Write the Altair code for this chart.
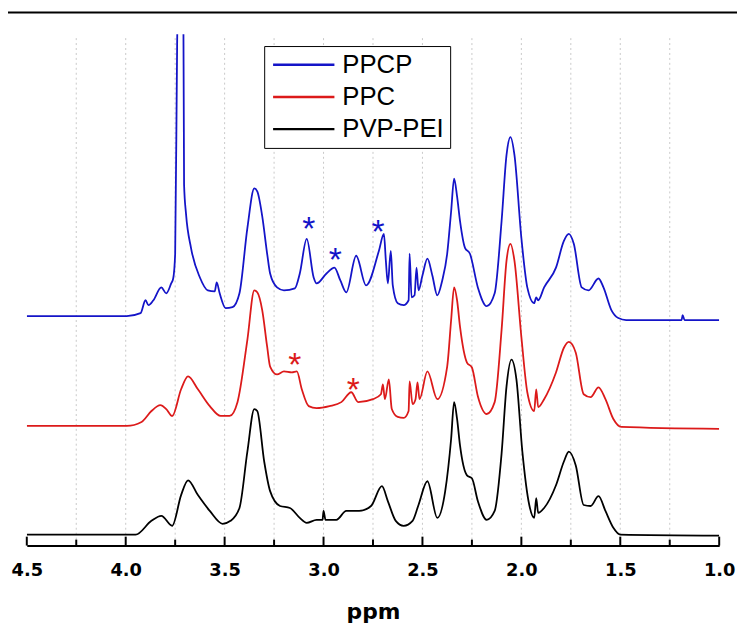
import altair as alt
import pandas as pd

# ---------------- data ----------------
series_names = ["PPCP", "PPC", "PVP-PEI"]
series_colors = ["#1414c8", "#dc1a1a", "#000000"]

ppcp_ppm = [4.5, 4.335, 4.135, 3.995, 3.925, 3.90, 3.885, 3.86, 3.82, 3.795, 3.77, 3.76, 3.75, 3.74,
            3.73, 3.71, 3.705, 3.695, 3.67, 3.625, 3.585, 3.55, 3.54, 3.525, 3.495, 3.46, 3.425,
            3.385, 3.35, 3.335, 3.31, 3.285, 3.27, 3.235, 3.2, 3.145, 3.12, 3.085, 3.05, 3.035,
            2.985, 2.945, 2.915, 2.885, 2.835, 2.785, 2.72, 2.695, 2.685, 2.675, 2.66, 2.65, 2.625,
            2.595, 2.57, 2.565, 2.555, 2.54, 2.53, 2.52, 2.5, 2.475, 2.45, 2.425, 2.4, 2.375, 2.355,
            2.34, 2.325, 2.31, 2.285, 2.26, 2.22, 2.175, 2.135, 2.1, 2.075, 2.055, 2.035, 2.0, 1.97,
            1.935, 1.925, 1.915, 1.885, 1.825, 1.785, 1.76, 1.735, 1.695, 1.66, 1.61, 1.585, 1.545,
            1.51, 1.47, 1.19, 1.185, 1.175, 1.0]
ppcp_int = [224, 224, 224, 224, 227, 240, 235, 240, 253, 247, 257, 262, 287, 500,
            600, 600, 357, 327, 293, 263, 250, 249, 258, 247, 232, 233, 247,
            313, 353, 350, 325, 287, 267, 253, 250, 252, 267, 302, 263, 257,
            267, 273, 260, 248, 285, 255, 290, 307, 280, 257, 290, 255, 237,
            235, 240, 287, 243, 245, 273, 250, 265, 282, 265, 245, 260, 287, 330,
            363, 345, 320, 293, 287, 253, 234, 247, 320, 387, 405, 387, 303, 253,
            237, 243, 240, 253, 273, 300, 307, 297, 253, 250, 262, 253, 230,
            222, 220, 220, 225, 220, 220]

ppc_ppm = [4.5, 3.995, 3.92, 3.87, 3.825, 3.795, 3.765, 3.72, 3.685, 3.635, 3.575, 3.52, 3.475,
           3.435, 3.385, 3.35, 3.335, 3.31, 3.285, 3.27, 3.235, 3.2, 3.16, 3.135, 3.11, 3.075,
           3.035, 2.97, 2.91, 2.86, 2.825, 2.75, 2.71, 2.7, 2.69, 2.67, 2.655, 2.625, 2.595, 2.57,
           2.565, 2.55, 2.535, 2.525, 2.515, 2.475, 2.425, 2.375, 2.355, 2.34, 2.325, 2.31, 2.275,
           2.25, 2.22, 2.175, 2.135, 2.1, 2.075, 2.055, 2.035, 2.0, 1.97, 1.935, 1.925, 1.915,
           1.885, 1.825, 1.785, 1.76, 1.725, 1.685, 1.65, 1.61, 1.575, 1.535, 1.495, 1.0]
ppc_int = [113, 113, 117, 128, 134, 130, 123, 150, 163, 150, 133, 123, 123,
           137, 200, 250, 248, 230, 193, 173, 165, 168, 167, 168, 150, 133,
           131, 133, 137, 147, 137, 140, 145, 155, 140, 160, 130, 122, 121, 128,
           158, 135, 140, 157, 140, 168, 140, 173, 220, 253, 240, 213, 177,
           172, 143, 125, 137, 210, 280, 297, 280, 203, 147, 128, 150, 132,
           140, 167, 192, 198, 187, 145, 142, 152, 140, 120, 112, 110]

pvp_ppm = [4.5, 3.95, 3.87, 3.82, 3.765, 3.72, 3.685, 3.635, 3.575, 3.51, 3.47, 3.425, 3.385,
           3.35, 3.335, 3.3, 3.27, 3.22, 3.17, 3.12, 3.085, 3.035, 3.005, 3.0, 2.99, 2.935,
           2.885, 2.82, 2.76, 2.705, 2.675, 2.635, 2.595, 2.55, 2.52, 2.475, 2.425, 2.385, 2.355,
           2.34, 2.325, 2.31, 2.275, 2.25, 2.22, 2.175, 2.135, 2.1, 2.075, 2.05, 2.025, 1.995,
           1.96, 1.935, 1.925, 1.915, 1.885, 1.825, 1.785, 1.76, 1.725, 1.685, 1.65, 1.61,
           1.575, 1.535, 1.5, 1.0]
pvp_int = [3, 3, 17, 22, 12, 43, 58, 43, 27, 14, 17, 30, 87,
           130, 128, 77, 47, 32, 30, 20, 15, 18, 18, 27, 18, 18,
           27, 27, 32, 52, 37, 17, 12, 17, 33, 57, 20, 47, 100,
           137, 120, 93, 63, 60, 37, 18, 27, 85, 153, 180, 160, 87,
           33, 20, 40, 25, 30, 53, 77, 87, 73, 33, 32, 42,
           27, 10, 3, 2]

# asterisk marks (glyph centres)
star_series = ["PPCP", "PPCP", "PPCP", "PPC", "PPC"]
star_ppm = [3.075, 2.94, 2.725, 3.145, 2.85]
star_int = [321, 290, 318, 183, 158]

tick_labels = [4.5, 4.0, 3.5, 3.0, 2.5, 2.0, 1.5, 1.0]
minor_ticks = [4.25, 3.75, 3.25, 2.75, 2.25, 1.75, 1.25]
grid_lines = [4.25, 4.0, 3.75, 3.5, 3.25, 3.0, 2.75, 2.5, 2.25, 2.0, 1.75, 1.5, 1.25]

# ---------------- tables ----------------
rows = []
for name, xs, ys in [("PPCP", ppcp_ppm, ppcp_int), ("PPC", ppc_ppm, ppc_int), ("PVP-PEI", pvp_ppm, pvp_int)]:
    for x, y in zip(xs, ys):
        rows.append({"series": name, "ppm": x, "h": y})
spectra = pd.DataFrame(rows)
stars = pd.DataFrame({"series": star_series, "ppm": star_ppm, "h": star_int})
major_df = pd.DataFrame({"ppm": tick_labels})
minor_df = pd.DataFrame({"ppm": minor_ticks})
grid_df = pd.DataFrame({"ppm": grid_lines})

W, H = 700, 517

xscale = alt.Scale(domain=[1.0, 4.5], reverse=True, nice=False, zero=False)
yscale = alt.Scale(domain=[-8, 509], nice=False, zero=False)
x_axis = alt.Axis(values=tick_labels, format=".1f", ticks=False, tickSize=0, grid=False,
                  domainColor="black", domainWidth=2, labelFont="DejaVu Sans",
                  labelFontWeight="bold", labelFontSize=18, labelColor="black",
                  labelPadding=16, labelFlush=False, title="ppm", titleFont="DejaVu Sans",
                  titleFontWeight="bold", titleFontSize=22, titleColor="black", titlePadding=23)
x_enc = alt.X("ppm:Q", scale=xscale, axis=x_axis)
y_enc = alt.Y("h:Q", scale=yscale, axis=None)
color_scale = alt.Scale(domain=series_names, range=series_colors)

grid = alt.Chart(grid_df).mark_rule(color="#c8c8c8", strokeWidth=1, strokeDash=[2, 3]).encode(
    x=x_enc, y=alt.value(4), y2=alt.value(H - 2))

lines = alt.Chart(spectra).mark_line(clip=True, strokeWidth=1.8, interpolate="monotone").encode(
    x=x_enc, y=y_enc,
    color=alt.Color("series:N", scale=color_scale, sort=series_names,
                    legend=alt.Legend(orient="none", legendX=240, legendY=12, title=None,
                                      symbolType="M-1,0L5.2,0", symbolSize=400,
                                      symbolStrokeWidth=2.5, labelFont="Liberation Sans",
                                      labelFontSize=26, labelColor="black", labelOffset=47,
                                      padding=6, rowPadding=6.5, strokeColor="black",
                                      fillColor="white", labelLimit=300)),
    detail="series:N")

star_marks = alt.Chart(stars).mark_text(text="*", font="Liberation Sans", fontSize=34,
                                        baseline="alphabetic", dy=20).encode(
    x=x_enc, y=y_enc, color=alt.Color("series:N", scale=color_scale, legend=None))

major = alt.Chart(major_df).mark_rule(color="black", strokeWidth=2).encode(
    x=x_enc, y=alt.value(H), y2=alt.value(H - 9))
minor = alt.Chart(minor_df).mark_rule(color="black", strokeWidth=2).encode(
    x=x_enc, y=alt.value(H), y2=alt.value(H - 6))

top_line = alt.Chart(pd.DataFrame({"a": [0]})).mark_rule(color="black", strokeWidth=2, clip=False).encode(
    x=alt.value(-19), x2=alt.value(718), y=alt.value(-22))

chart = alt.layer(grid, lines, star_marks, major, minor, top_line).properties(
    width=W, height=H,
    autosize=alt.AutoSizeParams(type="none"),
    padding={"left": 19, "top": 23, "right": 18, "bottom": 90},
    background="white",
).configure_view(stroke=None)

chart.save("out.html", embed_options={"renderer": "svg", "actions": False})
